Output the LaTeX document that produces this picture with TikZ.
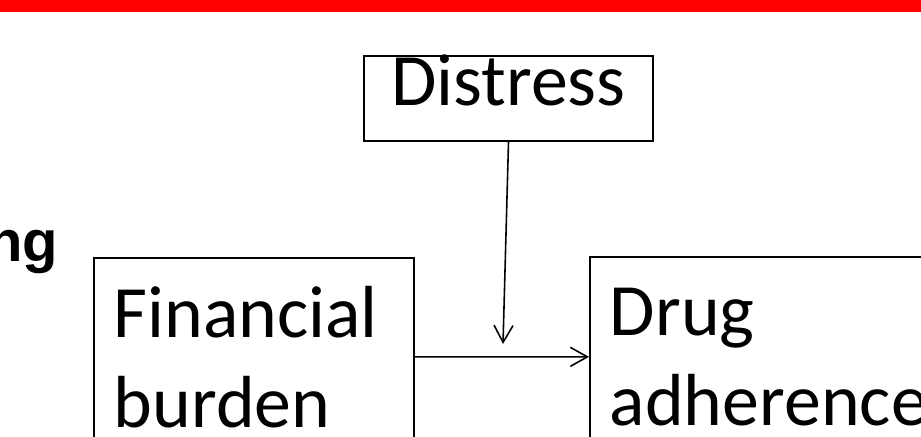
\documentclass[tikz,border=0pt]{standalone}
\usepackage{fontspec}
\setmainfont{Carlito}
\newfontfamily\headfont{Liberation Sans}
\usetikzlibrary{arrows.meta}

\begin{document}
\begin{tikzpicture}[
    box/.style={draw, line width=0.5pt, inner sep=0pt, font=\fontsize{21}{25.6}\selectfont},
    link/.style={line width=0.45pt, -{Straight Barb[length=0.17cm, width=0.19cm]}}
  ]
      \useasboundingbox (0, 0) rectangle (9.21, 4.37);
      \clip (0, 0) rectangle (9.21, 4.37);
      \fill[red] (0, 4.25) rectangle (9.21, 4.37);
      \node[anchor=base east, inner sep=0pt, font=\headfont\bfseries\fontsize{16.5}{20}\selectfont] (heading) at (0.59, 1.75) {ng};
      \node[box, minimum width=2.89cm, minimum height=0.85cm, text height=0.45cm, text depth=0.3cm] (distress) at (5.085, 3.385) {Distress};
      \node[box, anchor=north west, minimum height=1.98cm, text width=2.8cm, inner xsep=0.2cm, align=left] (burden) at (0.93, 1.80) {Financial\\burden};
      \node[box, anchor=north west, minimum height=2.0cm, text width=3.4cm, inner xsep=0.2cm, align=left] (drug) at (5.89, 1.81) {Drug\\adherence};
      \coordinate (meet) at (5.03, 0.93);
      \draw[link] (distress.south) -- (meet);
      \draw[link] (burden) -- (drug);
    \end{tikzpicture}
\end{document}
